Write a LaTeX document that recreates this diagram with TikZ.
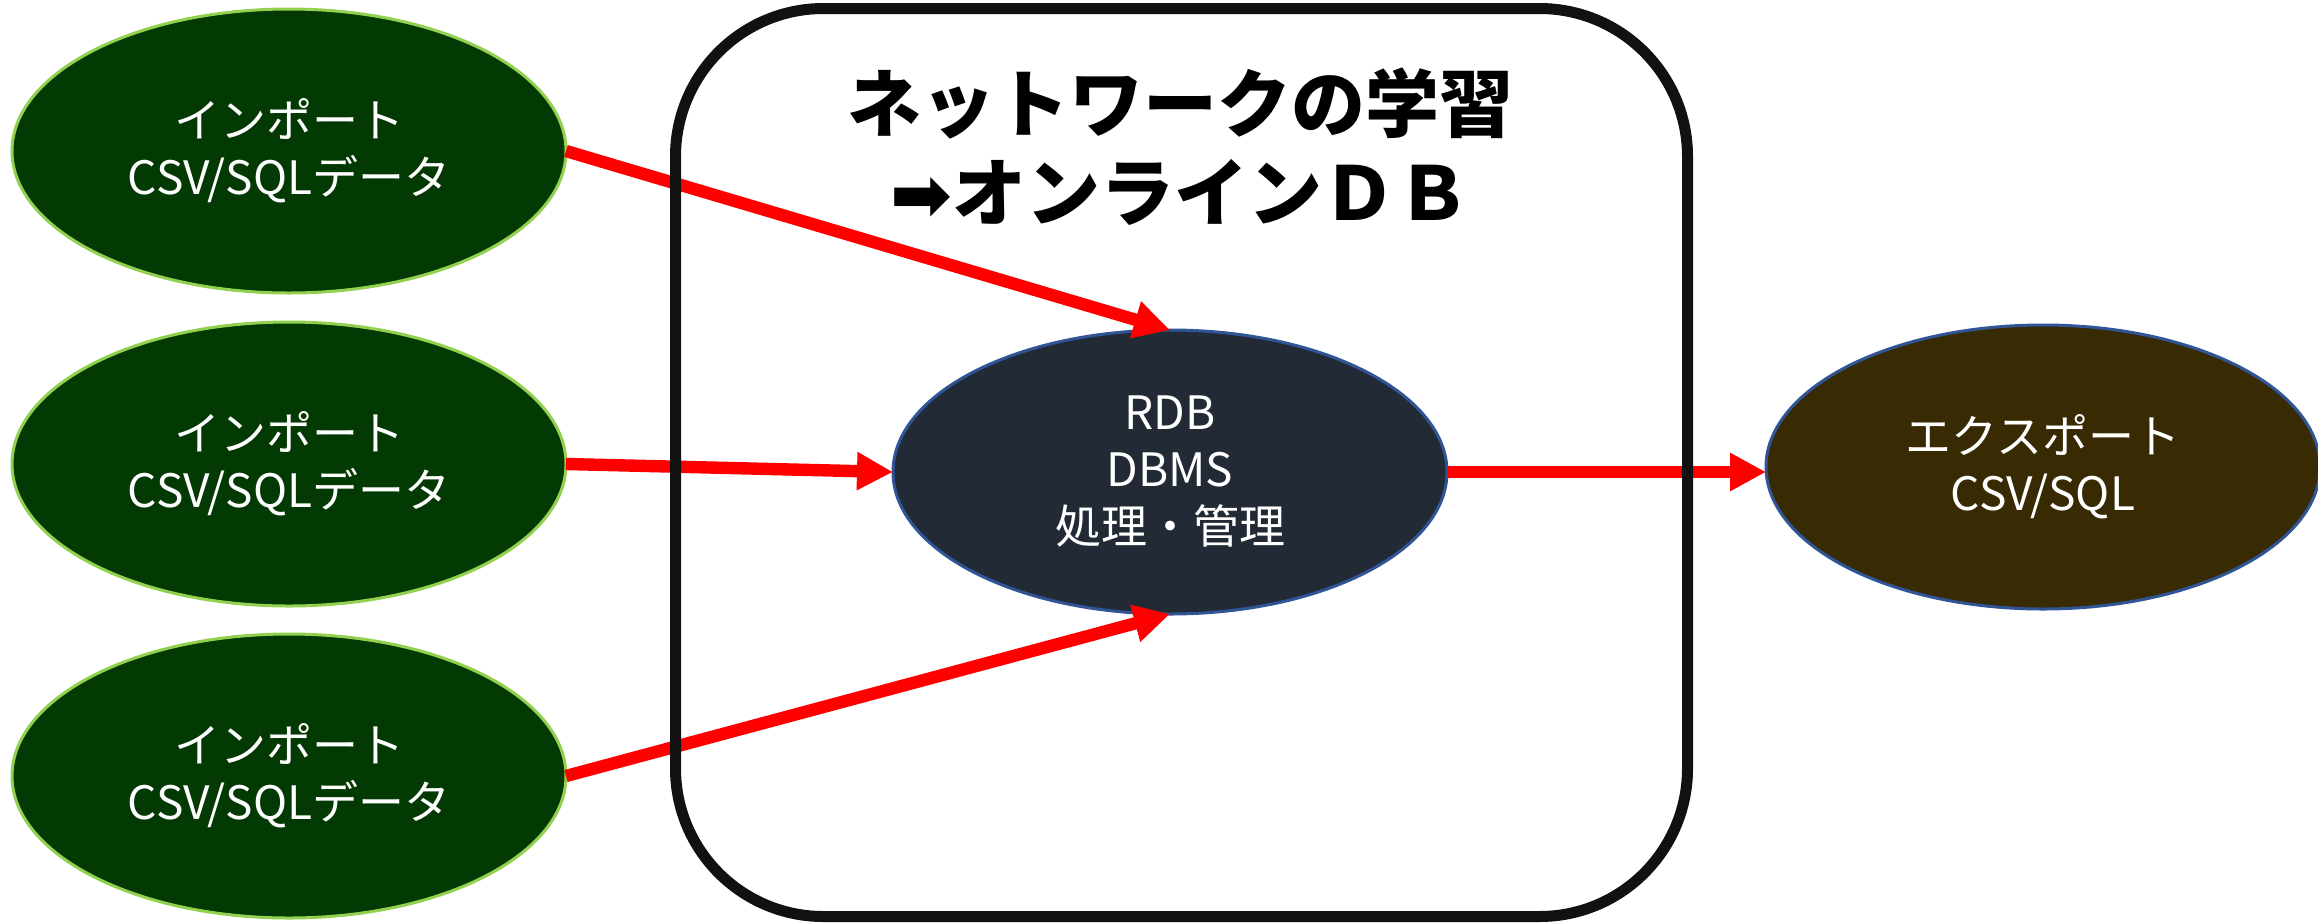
\documentclass[tikz,border=0pt]{standalone}
\usepackage{fontspec}
\setmainfont{Noto Sans CJK JP}
\newfontfamily\jpfont{Noto Sans CJK JP}
\newfontfamily\symfont{DejaVu Sans}
\usetikzlibrary{shapes.geometric,arrows.meta}

\definecolor{importfill}{RGB}{3,57,3}
\definecolor{importedge}{RGB}{146,208,80}
\definecolor{dbfill}{RGB}{34,42,53}
\definecolor{blueedge}{RGB}{47,85,151}
\definecolor{exportfill}{RGB}{56,42,3}
\definecolor{framecol}{RGB}{17,17,17}

\tikzset{
  bubble/.style={ellipse, line width=1.5pt, minimum width=277pt, minimum height=142pt,
    inner sep=0pt, outer sep=0pt, text=white, align=center,
    font=\jpfont\fontsize{23}{28.5}\selectfont},
  importnode/.style={bubble, draw=importedge, fill=importfill},
  dbnode/.style={bubble, draw=blueedge, fill=dbfill},
  exportnode/.style={bubble, draw=blueedge, fill=exportfill},
  flow/.style={draw=red, line width=6.2pt, -{Triangle[length=18pt,width=18pt]}},
  framebox/.style={draw=framecol, line width=5.5pt, rounded corners=74pt,
    minimum width=506pt, minimum height=454pt, inner sep=0pt},
  titletext/.style={align=center, font=\jpfont\bfseries\fontsize{37}{44.5}\selectfont}
}

\begin{document}
\begin{tikzpicture}[x=0.5pt,y=-0.5pt]
\useasboundingbox (0,0) rectangle (2318,922);

% source, processing and output bubbles
\node[importnode] (in1) at (289,151) {インポート\\CSV/SQLデータ};
\node[importnode] (in2) at (289,464) {インポート\\CSV/SQLデータ};
\node[importnode] (in3) at (289,776) {インポート\\CSV/SQLデータ};
\node[dbnode] (db) at (1170,472) {RDB\\DBMS\\処理・管理};
\node[exportnode] (out) at (2043,467) {エクスポート\\CSV/SQL};

% data flow
\draw[flow] (in1.east) -- (db.north);
\draw[flow] (in2.east) -- (db.west);
\draw[flow] (in3.east) -- (db.south);
\draw[flow] (db.east) -- (db.east -| out.west);

% online database frame and its heading
\node[framebox] (frame) at (1181.5,462.5) {};
\node[titletext] (title) at (1180,147) {ネットワークの学習\\{\symfont ➡}オンラインＤＢ};
\end{tikzpicture}
\end{document}
